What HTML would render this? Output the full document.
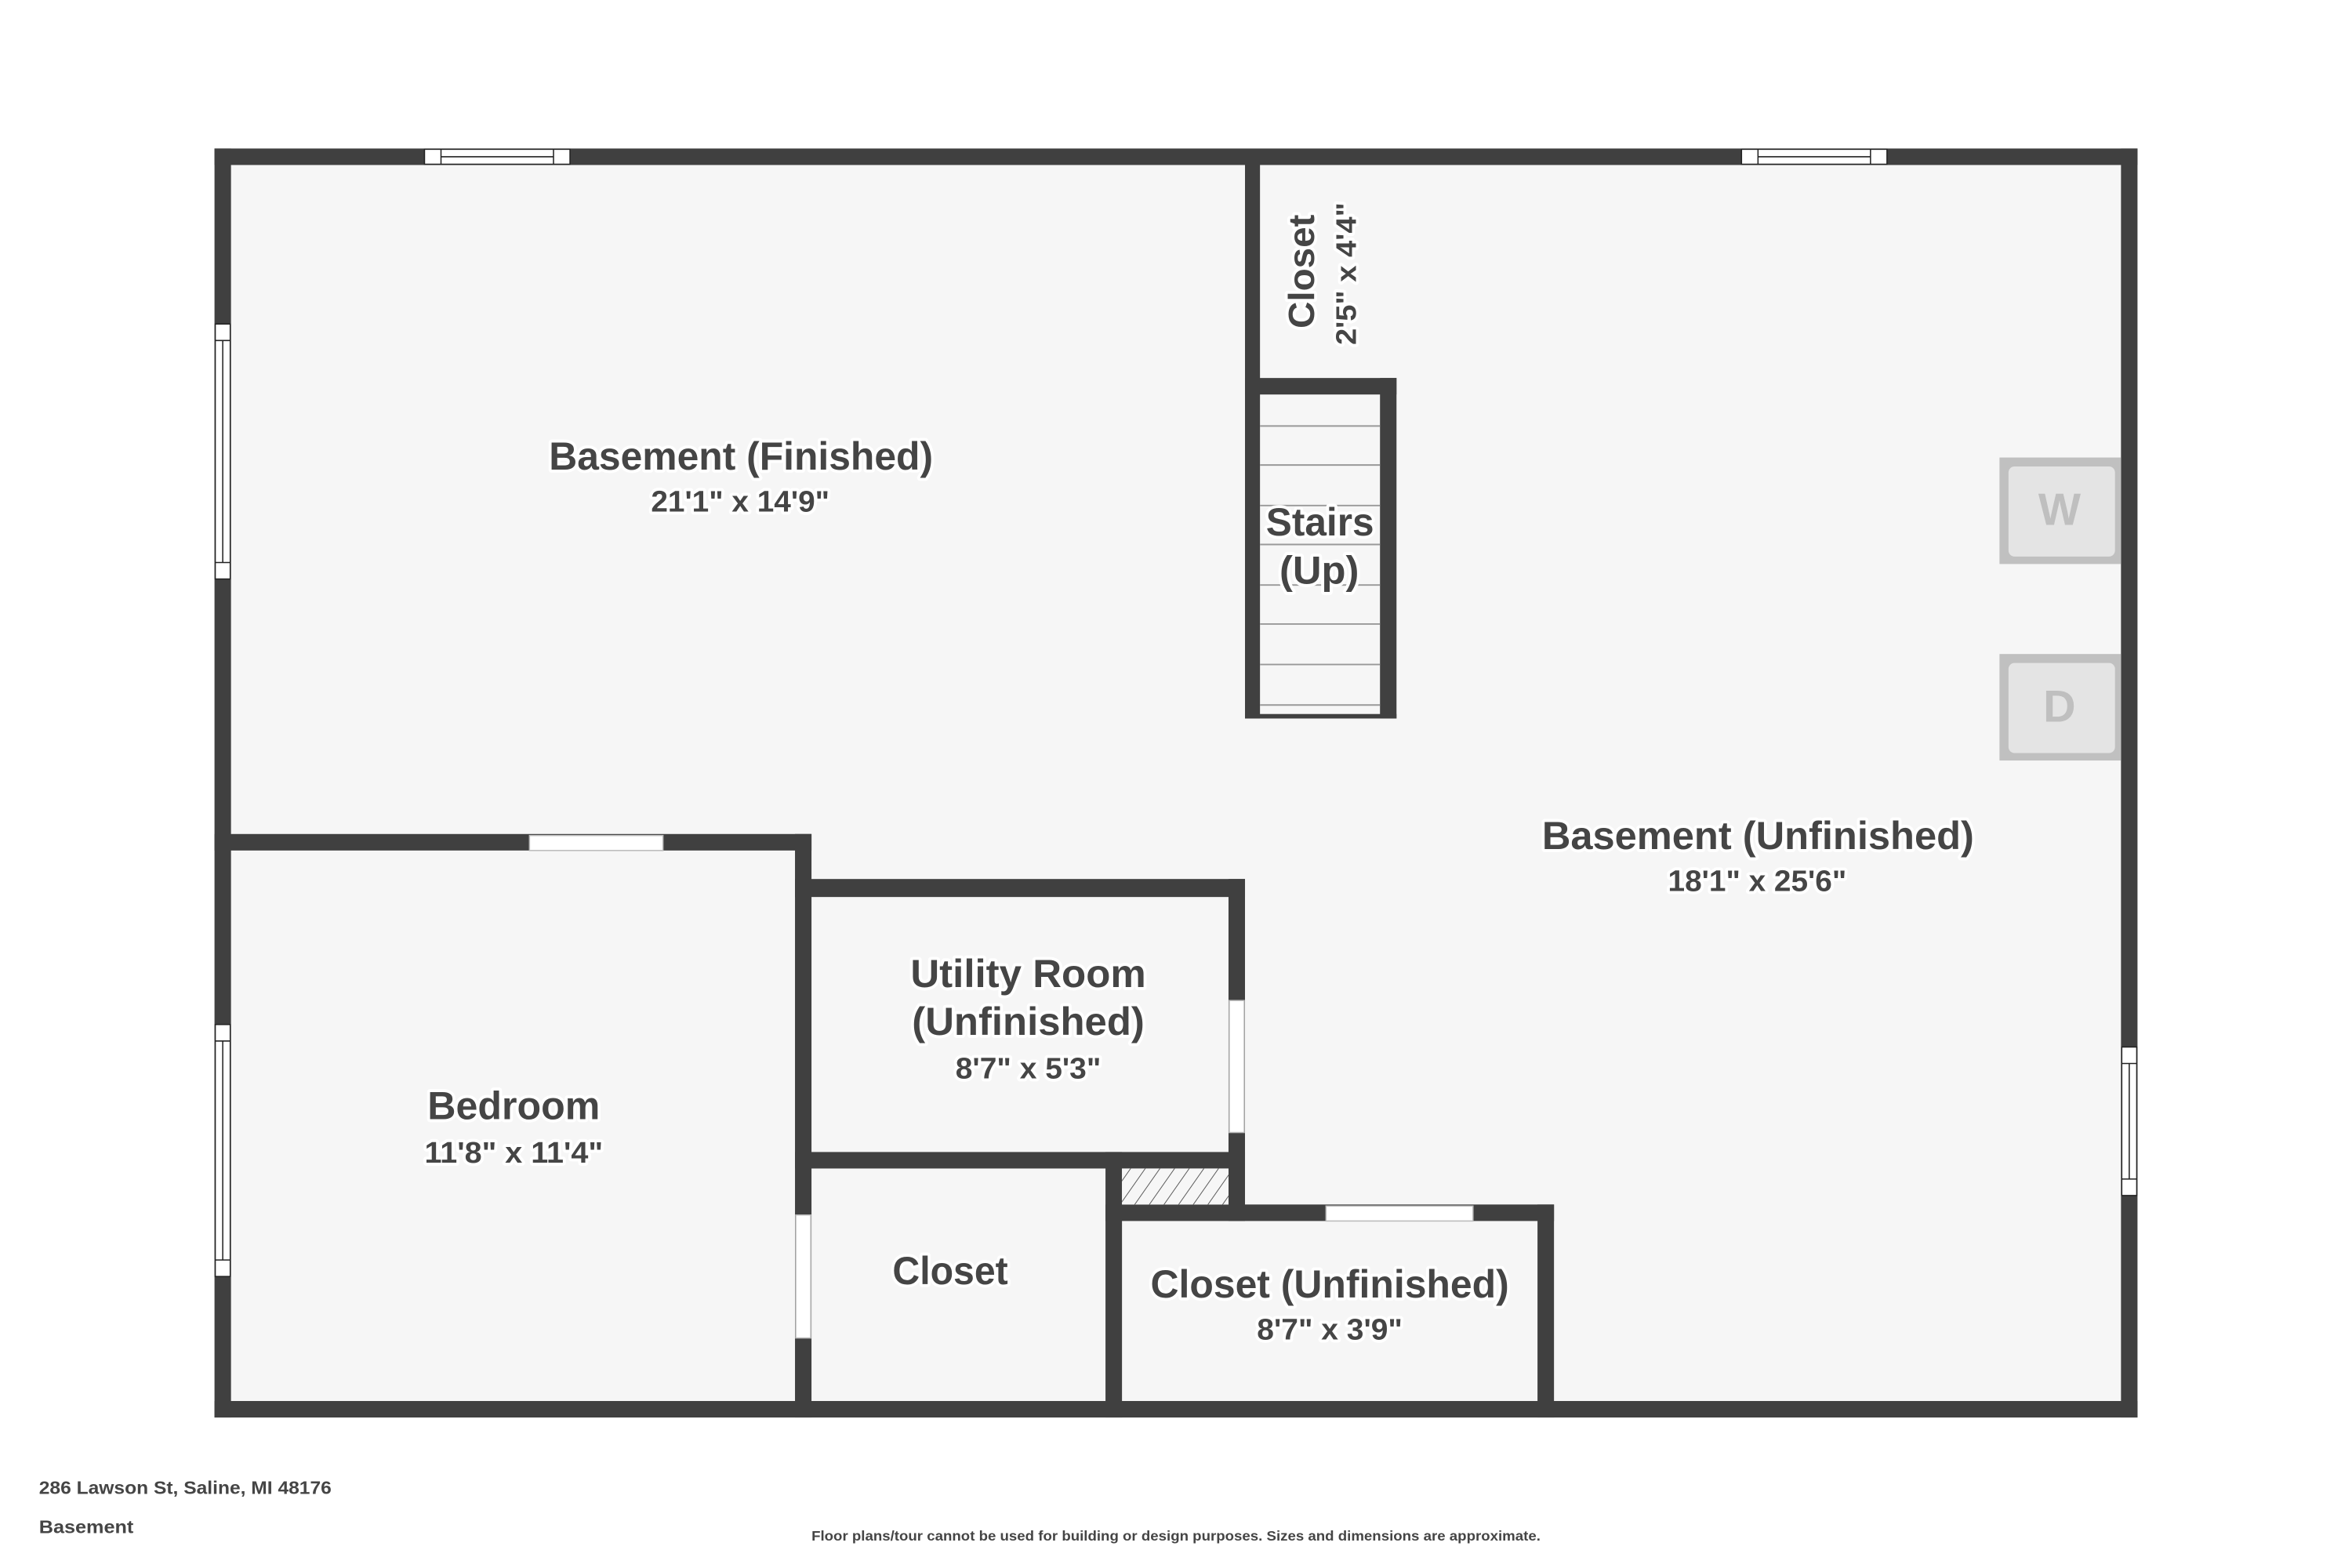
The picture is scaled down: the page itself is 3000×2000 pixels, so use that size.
<!DOCTYPE html>
<html><head><meta charset="utf-8"><style>
html,body{margin:0;padding:0;background:#fff;}
svg{display:block;}
text{font-family:"Liberation Sans",sans-serif;font-weight:bold;fill:#454545;}
.h{stroke:#fff;stroke-width:4;paint-order:stroke;stroke-linejoin:round;}
</style></head><body>
<svg width="3000" height="2000" viewBox="0 0 1568 1045.33" preserveAspectRatio="none" xmlns="http://www.w3.org/2000/svg">
<defs>
<pattern id="hatch" width="8" height="8" patternUnits="userSpaceOnUse" patternTransform="rotate(35)">
<line x1="0" y1="0" x2="0" y2="8" stroke="#555" stroke-width="1"/>
</pattern>
</defs>
<rect x="0" y="0" width="1568" height="1046" fill="#fff"/>
<!-- floor -->
<rect x="148" y="104" width="1272" height="836" fill="#f6f6f6"/>
<g fill="#404040">
<!-- outer walls -->
<rect x="143" y="99" width="1282" height="11"/>
<rect x="143" y="934" width="1282" height="11"/>
<rect x="143" y="99" width="11" height="846"/>
<rect x="1414" y="99" width="11" height="846"/>
<!-- closet / stairs -->
<rect x="830" y="104" width="10" height="375"/>
<rect x="830" y="252" width="101" height="11"/>
<rect x="920" y="252" width="11" height="227"/>
<rect x="830" y="476" width="101" height="3"/>
<!-- bedroom -->
<rect x="143" y="556" width="398" height="11"/>
<rect x="530" y="556" width="11" height="389"/>
<!-- utility -->
<rect x="530" y="586" width="300" height="12"/>
<rect x="819" y="586" width="11" height="228"/>
<rect x="530" y="768" width="300" height="11"/>
<!-- closet -->
<rect x="737" y="768" width="11" height="177"/>
<!-- closet unfinished -->
<rect x="737" y="803" width="299" height="11"/>
<rect x="1025" y="803" width="11" height="142"/>
</g>
<!-- hatched -->
<rect x="748" y="779" width="71" height="24" fill="#f6f6f6"/>
<rect x="748" y="779" width="71" height="24" fill="url(#hatch)"/>
<!-- stair treads -->
<g stroke="#999" stroke-width="1">
<line x1="840" y1="284" x2="920" y2="284"/>
<line x1="840" y1="310" x2="920" y2="310"/>
<line x1="840" y1="337" x2="920" y2="337"/>
<line x1="840" y1="363" x2="920" y2="363"/>
<line x1="840" y1="390" x2="920" y2="390"/>
<line x1="840" y1="416" x2="920" y2="416"/>
<line x1="840" y1="443" x2="920" y2="443"/>
<line x1="840" y1="470" x2="920" y2="470"/>
</g>
<!-- windows -->
<g fill="#fff" stroke="#222" stroke-width="0.8">
<rect x="283" y="99.5" width="97" height="10"/>
<line x1="294" y1="99.5" x2="294" y2="109.5"/><line x1="369" y1="99.5" x2="369" y2="109.5"/><line x1="294" y1="104.5" x2="369" y2="104.5"/>
<rect x="1161" y="99.5" width="97" height="10"/>
<line x1="1172" y1="99.5" x2="1172" y2="109.5"/><line x1="1247" y1="99.5" x2="1247" y2="109.5"/><line x1="1172" y1="104.5" x2="1247" y2="104.5"/>
<rect x="143.5" y="216" width="10" height="170"/>
<line x1="143.5" y1="227" x2="153.5" y2="227"/><line x1="143.5" y1="375" x2="153.5" y2="375"/><line x1="148.5" y1="227" x2="148.5" y2="375"/>
<rect x="143.5" y="683" width="10" height="168"/>
<line x1="143.5" y1="694" x2="153.5" y2="694"/><line x1="143.5" y1="840" x2="153.5" y2="840"/><line x1="148.5" y1="694" x2="148.5" y2="840"/>
<rect x="1414.5" y="698" width="10" height="99"/>
<line x1="1414.5" y1="709" x2="1424.5" y2="709"/><line x1="1414.5" y1="786" x2="1424.5" y2="786"/><line x1="1419.5" y1="709" x2="1419.5" y2="786"/>
</g>
<g fill="#fff" stroke="#bbb" stroke-width="0.8">
<rect x="353" y="557" width="89" height="10"/>
<rect x="819.5" y="667" width="10" height="88"/>
<rect x="530.5" y="810" width="10" height="82"/>
<rect x="884" y="804" width="98" height="10"/>
</g>
<!-- W / D -->
<rect x="1333" y="305" width="81" height="71" fill="#c0c0c0"/>
<rect x="1339" y="311" width="71" height="60" rx="4" fill="#e4e4e4"/>
<rect x="1333" y="436" width="81" height="71" fill="#c0c0c0"/>
<rect x="1339" y="442" width="71" height="60" rx="4" fill="#e4e4e4"/>
<text x="1373" y="350" text-anchor="middle" font-size="30" style="fill:#bfbfbf">W</text>
<text x="1373" y="481" text-anchor="middle" font-size="30" style="fill:#bfbfbf">D</text>
<!-- labels -->
<text class="h" x="366" y="313" font-size="26" textLength="256" lengthAdjust="spacingAndGlyphs">Basement (Finished)</text>
<text class="h" x="434" y="341" font-size="20" textLength="119" lengthAdjust="spacingAndGlyphs">21'1" x 14'9"</text>
<text class="h" x="1028" y="566" font-size="26" textLength="288" lengthAdjust="spacingAndGlyphs">Basement (Unfinished)</text>
<text class="h" x="1112" y="594" font-size="20" textLength="119" lengthAdjust="spacingAndGlyphs">18'1" x 25'6"</text>
<text class="h" x="607" y="658" font-size="26" textLength="157" lengthAdjust="spacingAndGlyphs">Utility Room</text>
<text class="h" x="608" y="690" font-size="26" textLength="155" lengthAdjust="spacingAndGlyphs">(Unfinished)</text>
<text class="h" x="637" y="719" font-size="20" textLength="97" lengthAdjust="spacingAndGlyphs">8'7" x 5'3"</text>
<text class="h" x="285" y="746" font-size="26" textLength="115" lengthAdjust="spacingAndGlyphs">Bedroom</text>
<text class="h" x="283" y="775" font-size="20" textLength="119" lengthAdjust="spacingAndGlyphs">11'8" x 11'4"</text>
<text class="h" x="595" y="856" font-size="26" textLength="77" lengthAdjust="spacingAndGlyphs">Closet</text>
<text class="h" x="767" y="865" font-size="26" textLength="239" lengthAdjust="spacingAndGlyphs">Closet (Unfinished)</text>
<text class="h" x="838" y="893" font-size="20" textLength="97" lengthAdjust="spacingAndGlyphs">8'7" x 3'9"</text>
<text class="h" x="844" y="357" font-size="26" textLength="72" lengthAdjust="spacingAndGlyphs">Stairs</text>
<text class="h" x="853" y="389" font-size="26" textLength="53" lengthAdjust="spacingAndGlyphs">(Up)</text>
<text class="h" transform="translate(876,219) rotate(-90)" font-size="24" textLength="76" lengthAdjust="spacingAndGlyphs">Closet</text>
<text class="h" transform="translate(904,230) rotate(-90)" font-size="19" textLength="95" lengthAdjust="spacingAndGlyphs">2'5" x 4'4"</text>
<!-- footer -->
<text x="26" y="996" font-size="12" textLength="195" lengthAdjust="spacingAndGlyphs">286 Lawson St, Saline, MI 48176</text>
<text x="26" y="1022" font-size="12" textLength="63" lengthAdjust="spacingAndGlyphs">Basement</text>
<text x="541" y="1027" font-size="9" textLength="486" lengthAdjust="spacingAndGlyphs">Floor plans/tour cannot be used for building or design purposes. Sizes and dimensions are approximate.</text>
</svg>
</body></html>
